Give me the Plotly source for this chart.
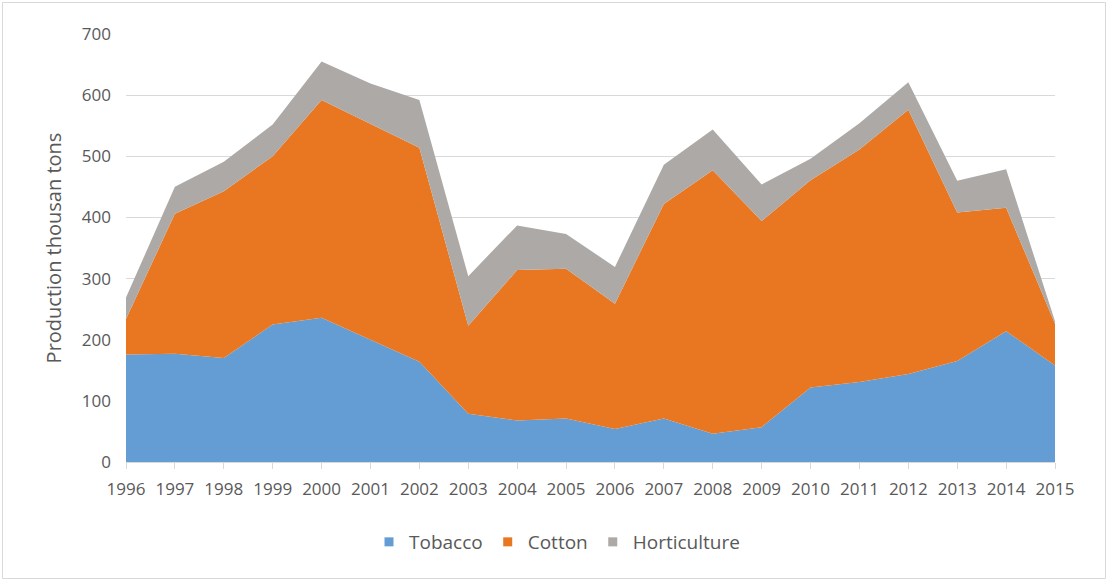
import plotly.graph_objects as go

# Annual production by crop, thousand tons
years = list(range(1996, 2016))
tobacco = [176, 177, 170, 225, 236, 200, 164, 79, 68, 71, 54, 71, 46, 57, 122, 131, 144, 165, 214, 158]
cotton = [58, 229, 273, 275, 356, 353, 350, 144, 246, 245, 205, 351, 431, 337, 339, 380, 432, 243, 202, 68]
horticulture = [35, 44, 48, 52, 63, 66, 78, 81, 73, 57, 60, 64, 67, 60, 35, 43, 45, 52, 63, 4]

series = [
    ("Tobacco", tobacco, "#649DD4"),
    ("Cotton", cotton, "#E97721"),
    ("Horticulture", horticulture, "#ACA9A7"),
]

fig = go.Figure()
for name, vals, color in series:
    fig.add_trace(go.Scatter(
        x=years, y=vals, name=name, mode="lines",
        stackgroup="crops", line=dict(width=0, color=color),
        fillcolor=color, showlegend=False, legendgroup=name,
    ))
# square legend keys for the stacked areas
for name, vals, color in series:
    fig.add_trace(go.Scatter(
        x=[None], y=[None], name=name, mode="markers", legendgroup=name,
        marker=dict(symbol="square", size=9, color=color),
    ))

W, H = 1107, 581
L, R, T, B = 126, 52, 34, 119
pw, ph = W - L - R, H - T - B

font = dict(family="Open Sans, Liberation Sans, sans-serif", size=17, color="#595959")
big = dict(family="Open Sans, Liberation Sans, sans-serif", size=19, color="#595959")

fig.update_layout(
    width=W, height=H,
    margin=dict(l=L, r=R, t=T, b=B),
    paper_bgcolor="white", plot_bgcolor="white",
    font=font,
    showlegend=True,
    legend=dict(
        orientation="h", x=(557 - L) / pw, xanchor="center",
        y=(T + ph - 542) / ph, yanchor="middle",
        font=big, traceorder="normal",
        itemwidth=30,
    ),
    xaxis=dict(
        range=[1996, 2015], tickmode="array", tickvals=years,
        ticktext=[str(y) for y in years],
        showgrid=False, zeroline=False,
        showline=True, linecolor="#D9D9D9", linewidth=1,
        ticks="outside", ticklen=6, tickcolor="#D9D9D9",
        tickfont=font, ticklabelstandoff=6,
    ),
    yaxis=dict(
        range=[0, 700], dtick=100, tick0=0,
        showgrid=True, gridcolor="#D9D9D9", gridwidth=1,
        zeroline=False, showline=False, ticks="",
        tickfont=font, ticklabelstandoff=14,
        title=dict(text="Production thousan tons", font=dict(family=big["family"], size=20, color="#595959"), standoff=14),
    ),
    shapes=[dict(
        type="rect", xref="paper", yref="paper",
        x0=(2.5 - L) / pw, x1=(1105.5 - L) / pw,
        y0=(T + ph - 578.5) / ph, y1=(T + ph - 2.5) / ph,
        line=dict(color="#D9D9D9", width=1), fillcolor="rgba(0,0,0,0)",
        layer="below",
    )],
)

fig.write_html("out.html")
